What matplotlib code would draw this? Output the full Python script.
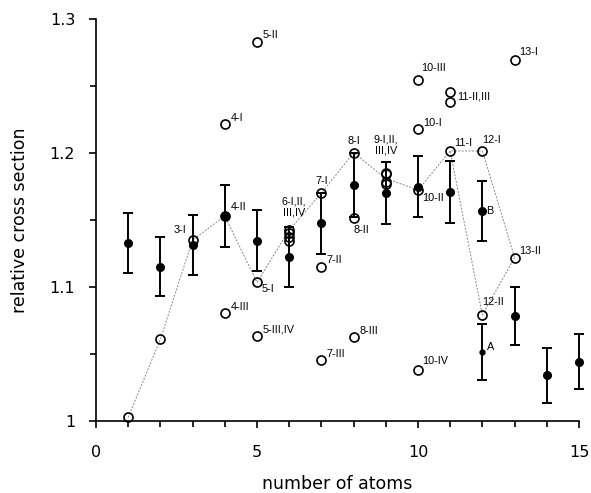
import matplotlib
matplotlib.use("Agg")
import matplotlib.pyplot as plt
from matplotlib.ticker import MultipleLocator, FuncFormatter

plt.rcParams['font.family'] = ['Liberation Sans', 'DejaVu Sans']

# Experimental values (filled circles with error bars)
exp_n = [1, 2, 3, 4, 5, 6, 7, 8, 9, 10, 11, 12, 13, 14, 15]
exp_val = [1.1326, 1.1152, 1.1313, 1.153, 1.1346, 1.1226, 1.1475, 1.176, 1.170,
           1.1749, 1.1707, 1.1567, 1.0786, 1.0343, 1.0443]
exp_err = [0.0225, 0.022, 0.0225, 0.023, 0.023, 0.0225, 0.0225, 0.024, 0.023,
           0.023, 0.0233, 0.0227, 0.0215, 0.0205, 0.0206]
# Experimental point A for n=12
expA_n = [12]
expA_val = [1.0513]
expA_err = [0.021]

# Calculated isomers (open circles)
iso_n = [1, 2, 3, 4, 4, 4, 5, 5, 5, 6, 6, 6, 6, 7, 7, 7, 8, 8, 8,
         9, 9, 9, 9, 10, 10, 10, 10, 11, 11, 11, 12, 12, 13, 13]
iso_val = [1.0027, 1.061, 1.135, 1.2214, 1.153, 1.0804, 1.1035, 1.283, 1.0637,
           1.1425, 1.140, 1.137, 1.134, 1.170, 1.1152, 1.0455, 1.2002, 1.1513, 1.0624,
           1.185, 1.184, 1.178, 1.177, 1.2179, 1.1724, 1.2545, 1.038,
           1.2015, 1.2457, 1.2383, 1.2015, 1.0791, 1.2694, 1.122]

# Lowest-isomer connection paths
path1_n = [1, 2, 3, 4, 5, 6, 7, 8, 9, 10, 11, 12, 13]
path1_val = [1.0027, 1.061, 1.135, 1.153, 1.1035, 1.1425, 1.170, 1.2002, 1.181,
             1.1724, 1.2015, 1.2015, 1.122]
path2_n = [11, 12, 13]
path2_val = [1.2015, 1.0791, 1.122]

# Labels: (text, x, y, dx_pt, dy_pt, ha, va)
labels = [
    ("3-I", 3, 1.135, -9, 4, 'center', 'bottom'),
    ("4-I", 4, 1.2214, 4, 1, 'left', 'bottom'),
    ("4-II", 4, 1.153, 4, 3, 'left', 'bottom'),
    ("4-III", 4, 1.0804, 4, 1, 'left', 'bottom'),
    ("5-I", 5, 1.1035, 3, -1, 'left', 'top'),
    ("5-II", 5, 1.283, 4, 1, 'left', 'bottom'),
    ("5-III,IV", 5, 1.0637, 4, 1, 'left', 'bottom'),
    ("6-I,II,\nIII,IV", 6.15, 1.1425, 0, 9, 'center', 'bottom'),
    ("7-I", 7, 1.170, 0, 5, 'center', 'bottom'),
    ("7-II", 7, 1.1152, 4, 1, 'left', 'bottom'),
    ("7-III", 7, 1.0455, 4, 1, 'left', 'bottom'),
    ("8-I", 8, 1.2002, 0, 5, 'center', 'bottom'),
    ("8-II", 8, 1.1513, 0, -5, 'left', 'top'),
    ("8-III", 8, 1.0624, 4, 1, 'left', 'bottom'),
    ("9-I,II,\nIII,IV", 9, 1.185, 0, 13, 'center', 'bottom'),
    ("10-I", 10, 1.2179, 4, 1, 'left', 'bottom'),
    ("10-II", 10, 1.1724, 3, -2, 'left', 'top'),
    ("10-III", 10, 1.2545, 2, 5, 'left', 'bottom'),
    ("10-IV", 10, 1.038, 3, 3, 'left', 'bottom'),
    ("11-I", 11, 1.2015, 3, 2, 'left', 'bottom'),
    ("11-II,III", 11, 1.242, 5, 0, 'left', 'center'),
    ("12-I", 12, 1.2015, 0, 4, 'left', 'bottom'),
    ("12-II", 12, 1.0791, 0, 6, 'left', 'bottom'),
    ("13-I", 13, 1.2694, 3, 2, 'left', 'bottom'),
    ("13-II", 13, 1.122, 3, 1, 'left', 'bottom'),
    ("A", 12, 1.0513, 3, 0, 'left', 'bottom'),
    ("B", 12, 1.1567, 3, 0, 'left', 'center'),
]

fig = plt.figure(figsize=(5.91, 4.93), dpi=100)
ax = fig.add_axes([0.1624, 0.146, 0.8173, 0.8155])

ax.plot(path1_n, path1_val, color='#888888', lw=0.7, ls=(0, (2, 1.5)), zorder=1, clip_on=False)
ax.plot(path2_n, path2_val, color='#888888', lw=0.7, ls=(0, (2, 1.5)), zorder=1, clip_on=False)

for xs, ys, es, ms in [(exp_n, exp_val, exp_err, 5.5), (expA_n, expA_val, expA_err, 3.5)]:
    cont = ax.errorbar(xs, ys, yerr=es, fmt='o', color='black', ms=ms, capsize=3.5,
                       elinewidth=1.4, capthick=1.4, zorder=2)
    for art in cont.get_children():
        art.set_clip_on(False)

ax.plot(iso_n, iso_val, 'o', mfc='none', mec='black', mew=1.2, ms=6.5, zorder=3, clip_on=False)

for t, x, y, dx, dy, ha, va in labels:
    ax.annotate(t, (x, y), xytext=(dx, dy), textcoords='offset points', ha=ha, va=va,
                fontsize=7.8, linespacing=1.1)

ax.set_xlim(0, 15)
ax.set_ylim(1.0, 1.3)
ax.spines['top'].set_visible(False)
ax.spines['right'].set_visible(False)
ax.spines['left'].set_linewidth(1.2)
ax.spines['bottom'].set_linewidth(1.2)
ax.xaxis.set_major_locator(MultipleLocator(5))
ax.xaxis.set_minor_locator(MultipleLocator(1))
ax.yaxis.set_major_locator(MultipleLocator(0.1))
ax.yaxis.set_minor_locator(MultipleLocator(0.05))
ax.yaxis.set_major_formatter(FuncFormatter(lambda v, p: ('%g' % round(v, 2))))
ax.tick_params(which='major', direction='out', length=5, width=1.2, pad=12)
ax.tick_params(axis='y', which='major', pad=10)
ax.tick_params(which='minor', direction='out', length=4, width=1.2)
for lab in ax.get_xticklabels() + ax.get_yticklabels():
    lab.set_fontfamily('DejaVu Sans')
    lab.set_fontsize(11.5)
ax.set_xlabel('number of atoms', fontsize=12.5, labelpad=11, family='DejaVu Sans')
ax.set_ylabel('relative cross section', fontsize=12.5, labelpad=15, family='DejaVu Sans')

fig.savefig('out.png', dpi=100)
